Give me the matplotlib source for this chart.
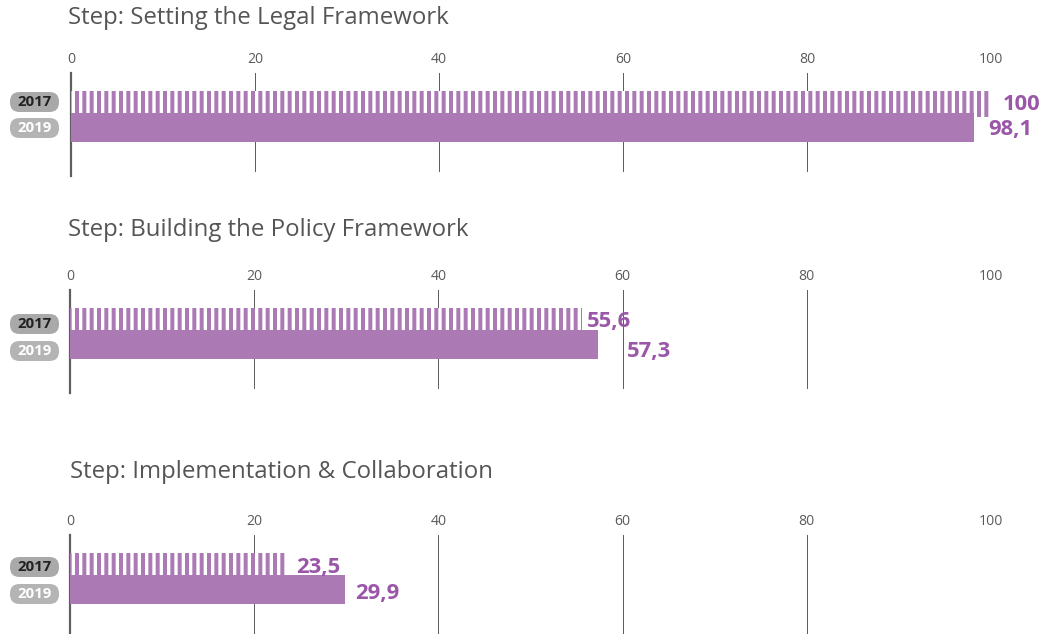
import numpy as np
import matplotlib
matplotlib.use("Agg")
import matplotlib.pyplot as plt
from matplotlib.patches import FancyBboxPatch
from matplotlib.transforms import IdentityTransform

# data
steps = ["Step: Setting the Legal Framework",
         "Step: Building the Policy Framework",
         "Step: Implementation & Collaboration"]
years = ["2017", "2019"]
vals_2017 = [100, 55.6, 23.5]
vals_2019 = [98.1, 57.3, 29.9]
labels_2017 = ["100", "55,6", "23,5"]
labels_2019 = ["98,1", "57,3", "29,9"]
ticks = [0, 20, 40, 60, 80, 100]

DPI = 88
W, H = 1051, 634
PT = 72 / DPI  # px -> pt

purple = "#ab7ab4"
label_col = "#9a56a7"
grid_col = "#5f5f5f"

plt.rcParams["font.family"] = ["Open Sans", "DejaVu Sans"]
plt.rcParams["hatch.linewidth"] = 4.0 * PT

fig = plt.figure(figsize=(W / DPI, H / DPI), dpi=DPI)
fig.patch.set_facecolor("white")

# panel layout in pixels
panel_top = [73, 290, 535]
panel_left = [71, 70, 70]
panel_right = 991
panel_h = 99
title_xy = [(68, 18), (68, 230), (70, 472)]
# label offsets (px) after bar end
off_2017 = [12, 5, 10]
off_2019 = [15, 29, 10]
ylab_2017 = [104, 322, 568]
ylab_2019 = [129, 351, 594]
badge_y = [(102, 128), (324, 351), (567, 594)]


def fx(px):
    return px / W


def fy(py):
    return 1 - py / H


def badge(cy, text, fc, tc):
    p = FancyBboxPatch((fx(10) , fy(cy + 10)), 49 / W, 20 / H,
                       boxstyle="round,pad=0,rounding_size=0.009",
                       transform=fig.transFigure, fc=fc, ec="none",
                       mutation_aspect=W / H)
    fig.patches.append(p)
    fig.text(fx(34.5), fy(cy), text, ha="center", va="center",
             fontsize=15 * PT, fontweight="bold", color=tc)


for i in range(3):
    top = panel_top[i]
    ax = fig.add_axes([fx(panel_left[i]), fy(top + panel_h),
                       (panel_right - panel_left[i]) / W, panel_h / H])
    ax.set_xlim(0, 100)
    ax.set_ylim(panel_h, 0)
    for s in ax.spines.values():
        s.set_visible(False)
    ax.set_yticks([])
    ax.set_xticks(ticks)
    ax.xaxis.tick_top()
    ax.tick_params(axis="x", length=0, pad=5, labelsize=14 * PT, labelcolor="#5a5a5a")
    ax.patch.set_alpha(0)
    for t in ticks:
        if t == 0:
            ax.axvline(t, color=grid_col, lw=2.2 * PT, ymin=-0.04, zorder=1, clip_on=False)
        else:
            ax.axvline(t, color=grid_col, lw=1.0 * PT, zorder=1)

    # 2017 hatched bar, 2019 solid bar (overlapping slightly)
    ax.barh(31, vals_2017[i], height=26, left=0, color="white", edgecolor=purple,
            hatch="||", linewidth=0, zorder=2)
    ax.barh(54.5, vals_2019[i], height=29, left=0, color=purple, linewidth=0, zorder=3)

    # value labels
    ax.annotate(labels_2017[i], xy=(vals_2017[i], ylab_2017[i] - top),
                xytext=(off_2017[i] * PT, 0), textcoords="offset points",
                ha="left", va="center", fontsize=22 * PT, fontweight="bold",
                color=label_col, annotation_clip=False)
    ax.annotate(labels_2019[i], xy=(vals_2019[i], ylab_2019[i] - top),
                xytext=(off_2019[i] * PT, 0), textcoords="offset points",
                ha="left", va="center", fontsize=22 * PT, fontweight="bold",
                color=label_col, annotation_clip=False)

    # title
    fig.text(fx(title_xy[i][0]), fy(title_xy[i][1]), steps[i], ha="left", va="center",
             fontsize=24 * PT, color="#555555")

    # year badges
    badge(badge_y[i][0], years[0], "#a9a9a9", "#222222")
    badge(badge_y[i][1], years[1], "#b4b4b4", "white")

fig.savefig("out.png", dpi=DPI, facecolor="white")
